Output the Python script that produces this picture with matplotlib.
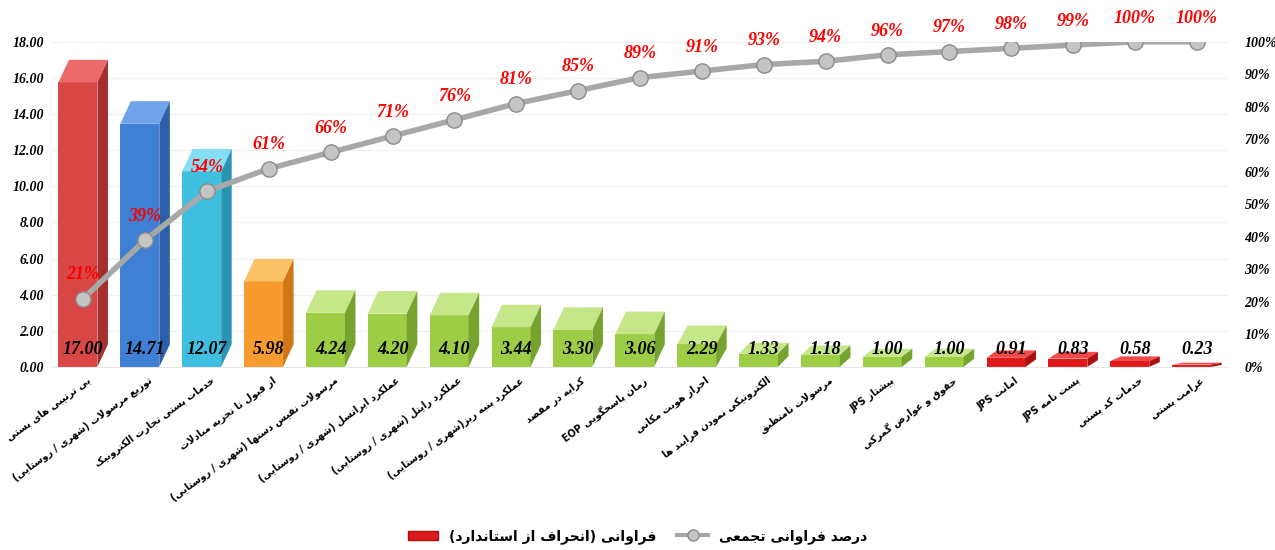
import re
import numpy as np
import matplotlib
matplotlib.use("Agg")
import matplotlib.pyplot as plt
from matplotlib.patches import Rectangle, Polygon, Patch
from matplotlib.lines import Line2D
from matplotlib.transforms import ScaledTranslation

# داده‌ها
labels = [
    "بی ترتیبی های پستی",
    "توزیع مرسولات (شهری / روستایی)",
    "خدمات پستی تجارت الکترونیک",
    "از قبول تا تجزیه مبادلات",
    "مرسولات نفیس دستها (شهری / روستایی)",
    "عملکرد ایرانسل (شهری / روستایی)",
    "عملکرد رایتل (شهری / روستایی)",
    "عملکرد پنبه ریز(شهری / روستایی)",
    "کرایه در مقصد",
    "زمان پاسخگویی EOP",
    "احراز هویت مکانی",
    "الکترونیکی نمودن فرایند ها",
    "مرسولات نامنطبق",
    "پیشتاز JPS",
    "حقوق و عوارض گمرکی",
    "امانت JPS",
    "پست نامه JPS",
    "خدمات کد پستی",
    "غرامت پستی",
]
values = [17.00, 14.71, 12.07, 5.98, 4.24, 4.20, 4.10, 3.44, 3.30, 3.06,
          2.29, 1.33, 1.18, 1.00, 1.00, 0.91, 0.83, 0.58, 0.23]
cum_pct = [21, 39, 54, 61, 66, 71, 76, 81, 85, 89, 91, 93, 94, 96, 97, 98, 99, 100, 100]

legend_bar = "فراوانی (انحراف از استاندارد)"
legend_line = "درصد فراوانی تجمعی"

# رنگ هر ستون: (رو، بغل، بالا)
palette = {
    "red1": ("#d84646", "#a52f2f", "#ec6a6a"),
    "blue": ("#3f7fd4", "#2d5ea8", "#6fa3ea"),
    "cyan": ("#3fbfe0", "#2a95b3", "#86def5"),
    "orange": ("#f79b2e", "#cf7716", "#fcc267"),
    "green": ("#9dcc45", "#76a22e", "#c6e68a"),
    "red2": ("#e01a1a", "#ad1010", "#f24a4a"),
}
bar_colors = ["red1", "blue", "cyan", "orange"] + ["green"] * 11 + ["red2"] * 4


# --- شکل‌دهی ساده‌ی حروف فارسی (matplotlib خودش این کار را نمی‌کند) ---
FORMS = {
    "ا": "\uFE8D\uFE8E", "آ": "\uFE81\uFE82", "د": "\uFEA9\uFEAA", "ذ": "\uFEAB\uFEAC",
    "ر": "\uFEAD\uFEAE", "ز": "\uFEAF\uFEB0", "ژ": "\uFB8A\uFB8B", "و": "\uFEED\uFEEE",
    "ب": "\uFE8F\uFE90\uFE91\uFE92", "پ": "\uFB56\uFB57\uFB58\uFB59",
    "ت": "\uFE95\uFE96\uFE97\uFE98", "ث": "\uFE99\uFE9A\uFE9B\uFE9C",
    "ج": "\uFE9D\uFE9E\uFE9F\uFEA0", "چ": "\uFB7A\uFB7B\uFB7C\uFB7D",
    "ح": "\uFEA1\uFEA2\uFEA3\uFEA4", "خ": "\uFEA5\uFEA6\uFEA7\uFEA8",
    "س": "\uFEB1\uFEB2\uFEB3\uFEB4", "ش": "\uFEB5\uFEB6\uFEB7\uFEB8",
    "ص": "\uFEB9\uFEBA\uFEBB\uFEBC", "ض": "\uFEBD\uFEBE\uFEBF\uFEC0",
    "ط": "\uFEC1\uFEC2\uFEC3\uFEC4", "ظ": "\uFEC5\uFEC6\uFEC7\uFEC8",
    "ع": "\uFEC9\uFECA\uFECB\uFECC", "غ": "\uFECD\uFECE\uFECF\uFED0",
    "ف": "\uFED1\uFED2\uFED3\uFED4", "ق": "\uFED5\uFED6\uFED7\uFED8",
    "ک": "\uFB8E\uFB8F\uFB90\uFB91", "گ": "\uFB92\uFB93\uFB94\uFB95",
    "ل": "\uFEDD\uFEDE\uFEDF\uFEE0", "م": "\uFEE1\uFEE2\uFEE3\uFEE4",
    "ن": "\uFEE5\uFEE6\uFEE7\uFEE8", "ه": "\uFEE9\uFEEA\uFEEB\uFEEC",
    "ی": "\uFBFC\uFBFD\uFBFE\uFBFF",
}
MIRROR = str.maketrans("()", ")(")


def shape(text):
    s = text.replace("ي", "ی").replace("ك", "ک")
    out = []
    i = 0
    while i < len(s):
        ch = s[i]
        if ch not in FORMS:
            out.append(ch)
            i += 1
            continue
        prev = s[i - 1] if i > 0 else ""
        join_prev = prev in FORMS and len(FORMS[prev]) == 4
        if ch == "ل" and i + 1 < len(s) and s[i + 1] == "ا":
            out.append("\uFEFC" if join_prev else "\uFEFB")
            i += 2
            continue
        nxt = s[i + 1] if i + 1 < len(s) else ""
        join_next = len(FORMS[ch]) == 4 and nxt in FORMS
        f = FORMS[ch]
        if join_prev and join_next:
            out.append(f[3])
        elif join_prev:
            out.append(f[1])
        elif join_next:
            out.append(f[2])
        else:
            out.append(f[0])
        i += 1
    return "".join(out)


def rtl(text):
    s = shape(text)
    runs = re.findall(r"[A-Za-z0-9]+|[^A-Za-z0-9]+", s)
    out = []
    for r in reversed(runs):
        if re.match(r"[A-Za-z0-9]", r):
            out.append(r)
        else:
            out.append(r[::-1].translate(MIRROR))
    return "".join(out)


num_font = dict(family="Liberation Serif", style="italic", weight="bold")
fa_font = "DejaVu Sans"

fig = plt.figure(figsize=(12.75, 5.5), dpi=100)
ax = fig.add_axes([0.041, 0.333, 0.922, 0.591])
ax2 = ax.twinx()

x = np.arange(len(values))
w, dx = 0.63, 0.17
for i, v in enumerate(values):
    front, side, top = palette[bar_colors[i]]
    dy = min(1.25, 0.45 * v)
    x0 = x[i] - (w + dx) / 2
    ax.add_patch(Rectangle((x0, 0), w, v - dy, facecolor=front, edgecolor="none", zorder=2))
    ax.add_patch(Polygon([(x0, v - dy), (x0 + w, v - dy), (x0 + w + dx, v), (x0 + dx, v)],
                         closed=True, facecolor=top, edgecolor="none", zorder=2))
    ax.add_patch(Polygon([(x0 + w, 0), (x0 + w + dx, dy), (x0 + w + dx, v), (x0 + w, v - dy)],
                         closed=True, facecolor=side, edgecolor="none", zorder=2))
    ax.text(x[i], 0.95, f"{v:.2f}", ha="center", va="center", fontsize=13,
            color="black", zorder=5, **num_font)

ax.set_xlim(-0.5, len(values) - 0.5)
ax.set_ylim(0, 18)
ax.set_yticks(np.arange(0, 19, 2))
ax.set_yticklabels([f"{t:.2f}" for t in np.arange(0, 19, 2)], fontsize=10, **num_font)
ax.yaxis.grid(True, color="#efefef", lw=0.8)
ax.set_axisbelow(True)
ax.set_xticks(x)
ax.set_xticklabels([rtl(l) for l in labels], rotation=36, ha="right", va="center",
                   rotation_mode="anchor", fontsize=7, fontweight="bold", family=fa_font)
ax.tick_params(axis="x", length=0, pad=9)
ax.tick_params(axis="y", length=0, pad=6)
shift = ScaledTranslation(0.06, 0, fig.dpi_scale_trans)
for lbl in ax.get_xticklabels():
    lbl.set_transform(lbl.get_transform() + shift)

pct = np.array(cum_pct)
ax2.plot(x, pct, color="#a8a8a8", lw=4, zorder=3, solid_capstyle="round",
         marker="o", markersize=11, markerfacecolor="#c4c4c4", markeredgecolor="#8a8a8a",
         markeredgewidth=1)
for i, p in enumerate(cum_pct):
    ax2.annotate(f"{p}%", (x[i], p), xytext=(0, 17), textcoords="offset points",
                 ha="center", va="center", color="#ff0000", fontsize=13,
                 annotation_clip=False, **num_font)
ax2.set_ylim(0, 100)
ax2.set_yticks(np.arange(0, 101, 10))
ax2.set_yticklabels([f"{t}%" for t in range(0, 101, 10)], fontsize=10, **num_font)
ax2.tick_params(axis="y", length=0, pad=12)

for a in (ax, ax2):
    for sp in a.spines.values():
        sp.set_visible(False)
ax.spines["bottom"].set_visible(True)
ax.spines["bottom"].set_color("#e6e6e6")

handles = [
    Patch(facecolor=palette["red2"][0], edgecolor=palette["red2"][1]),
    Line2D([], [], color="#a8a8a8", lw=3, marker="o", markersize=8,
           markerfacecolor="#c4c4c4", markeredgecolor="#8a8a8a"),
]
fig.legend(handles, [rtl(legend_bar), rtl(legend_line)], loc="lower center",
           bbox_to_anchor=(0.5, -0.012), ncol=2, frameon=False, columnspacing=1.5,
           handlelength=2.2, prop=dict(family=fa_font, weight="bold", size=10))

fig.savefig("out.png", dpi=100)
